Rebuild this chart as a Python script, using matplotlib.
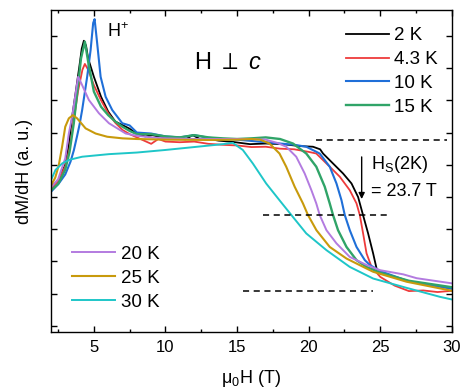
import matplotlib
matplotlib.use("Agg")
import matplotlib.pyplot as plt

plt.rcParams['font.family'] = ['Liberation Sans', 'DejaVu Sans']
plt.rcParams['mathtext.fontset'] = 'custom'
plt.rcParams['mathtext.rm'] = 'Liberation Sans'
plt.rcParams['mathtext.it'] = 'Liberation Sans:italic'
plt.rcParams['mathtext.bf'] = 'Liberation Sans:bold'

# ---------------- data ----------------
labels = ["2 K", "4.3 K", "10 K", "15 K", "20 K", "25 K", "30 K"]
colors = ["#000000", "#EE3B3B", "#1F6FD8", "#30A468", "#B37BE0", "#C89A0C", "#1EC6C8"]
widths = [1.3, 1.3, 1.5, 1.7, 1.4, 1.5, 1.4]

x_2K = [2.0, 2.5, 3.0, 3.25, 3.48, 3.72, 4.0, 4.15, 4.30, 4.45, 4.6, 5.0, 5.5, 6.0, 6.5, 7.0,
        7.45, 8.15, 8.6, 9.1, 9.6, 10.0, 10.7, 11.4, 11.9, 12.4, 12.8, 13.7, 14.7, 15.9, 17.0,
        18.2, 19.4, 20.3, 20.8, 21.0, 21.7, 22.4, 22.99, 23.45, 23.8, 24.15, 24.5, 24.74]
y_2K = [4.32, 4.5, 5.0, 5.6, 6.49, 7.22, 8.1, 8.6, 8.85, 8.7, 8.3, 7.73, 7.11, 6.65, 6.34, 6.23,
        6.13, 5.92, 5.88, 5.92, 5.86, 5.87, 5.82, 5.79, 5.92, 5.80, 5.82, 5.75, 5.71, 5.64, 5.66,
        5.64, 5.58, 5.56, 5.48, 5.35, 5.04, 4.73, 4.42, 4.0, 3.43, 2.87, 2.25, 1.78]

x_4K = [2.0, 2.5, 3.0, 3.3, 3.6, 3.9, 4.2, 4.37, 4.6, 5.0, 5.5, 6.0, 6.5, 7.0, 7.5, 8.0, 8.5,
        9.0, 9.5, 10.0, 11.0, 12.0, 13.0, 14.0, 15.0, 16.0, 17.0, 18.0, 19.0, 20.0, 20.53, 21.47,
        22.17, 22.87, 23.34, 23.57, 23.8, 24.04, 24.39, 25.0, 26.0, 27.0, 28.0, 29.0, 30.0]
y_4K = [4.25, 4.5, 4.95, 5.5, 6.4, 7.3, 7.95, 8.13, 7.95, 7.47, 7.0, 6.6, 6.3, 6.08, 5.95, 5.85,
        5.75, 5.65, 5.8, 5.72, 5.7, 5.72, 5.65, 5.62, 5.6, 5.55, 5.56, 5.5, 5.48, 5.4, 5.35, 4.94,
        4.63, 4.21, 3.80, 3.44, 2.87, 2.25, 1.83, 1.52, 1.25, 1.08, 1.1, 1.05, 1.09]

x_10K = [2.0, 2.55, 3.0, 3.37, 3.6, 3.83, 4.0, 4.18, 4.53, 4.77, 4.95, 5.05, 5.23, 5.47, 5.82,
         6.28, 6.98, 7.5, 8.0, 9.0, 10.0, 11.0, 12.0, 13.0, 14.0, 15.0, 16.0, 17.0, 18.0, 19.0,
         19.83, 20.77, 21.47, 21.94, 22.29, 22.52, 22.87, 23.34, 23.92, 24.27, 25.0, 27.0, 30.0]
y_10K = [4.16, 4.42, 4.7, 5.1, 5.45, 5.9, 6.25, 6.7, 7.73, 8.56, 9.4, 9.52, 8.77, 7.73, 7.11,
         6.70, 6.29, 6.22, 6.0, 5.97, 5.88, 5.85, 5.92, 5.84, 5.80, 5.78, 5.74, 5.70, 5.66, 5.62,
         5.56, 5.35, 4.94, 4.42, 3.90, 3.44, 2.97, 2.45, 2.04, 1.89, 1.7, 1.38, 1.15]

x_15K = [2.0, 2.5, 3.0, 3.3, 3.6, 3.9, 4.1, 4.37, 4.6, 5.0, 5.5, 6.0, 6.5, 7.0, 7.5, 8.0, 9.0,
         10.0, 11.0, 12.0, 13.0, 14.0, 15.0, 16.0, 17.0, 18.0, 18.9, 19.83, 20.53, 21.12, 21.47,
         21.7, 22.05, 22.64, 23.34, 24.04, 25.0, 27.0, 30.0]
y_15K = [4.2, 4.4, 4.85, 5.4, 6.3, 7.5, 8.3, 8.82, 8.2, 7.27, 6.80, 6.54, 6.34, 6.18, 6.05, 5.95,
         5.95, 5.88, 5.85, 5.92, 5.85, 5.82, 5.80, 5.82, 5.85, 5.8, 5.66, 5.35, 4.94, 4.32, 3.80,
         3.44, 2.97, 2.45, 2.04, 1.83, 1.65, 1.40, 1.2]

x_20K = [2.0, 2.5, 3.0, 3.25, 3.48, 3.72, 3.90, 4.1, 4.65, 5.35, 6.05, 7.22, 8.0, 9.0, 10.0,
         12.0, 14.0, 15.0, 16.0, 17.0, 17.8, 18.43, 19.13, 19.72, 20.19, 20.53, 20.77, 21.24,
         21.94, 22.87, 24.04, 24.97, 26.6, 27.54, 30.0]
y_20K = [4.3, 4.55, 5.2, 5.97, 6.49, 7.2, 7.73, 7.55, 7.01, 6.60, 6.29, 5.97, 5.9, 5.85, 5.82,
         5.80, 5.80, 5.80, 5.80, 5.78, 5.68, 5.56, 5.25, 4.73, 4.21, 3.80, 3.44, 2.97,
         2.56, 2.14, 1.89, 1.73, 1.60, 1.48, 1.32]

x_25K = [2.0, 2.3, 2.55, 2.78, 3.0, 3.25, 3.53, 3.83, 4.42, 5.12, 5.93, 7.0, 8.0, 10.0, 13.0,
         15.0, 16.0, 16.6, 17.26, 17.96, 18.43, 19.02, 19.6, 19.95, 20.54, 21.47, 22.64, 24.04,
         24.5, 26.84, 30.0]
y_25K = [4.35, 4.6, 4.99, 5.56, 6.18, 6.44, 6.54, 6.44, 6.13, 5.97, 5.87, 5.82, 5.80, 5.78, 5.77,
         5.78, 5.80, 5.78, 5.66, 5.35, 4.94, 4.32, 3.80, 3.44, 2.97, 2.45, 2.09, 1.78,
         1.68, 1.37, 1.09]

x_30K = [2.0, 2.32, 2.78, 3.25, 4.18, 6.05, 8.0, 10.0, 12.0, 14.0, 14.7, 15.4, 16.1, 17.03,
         17.96, 18.9, 19.83, 21.24, 22.87, 24.5, 26.84, 29.18, 30.0]
y_30K = [4.52, 4.84, 5.04, 5.15, 5.25, 5.33, 5.38, 5.46, 5.55, 5.64, 5.68, 5.46, 5.04, 4.42,
         3.90, 3.38, 2.87, 2.35, 1.83, 1.47, 1.18, 0.90, 0.82]

xs = [x_2K, x_4K, x_10K, x_15K, x_20K, x_25K, x_30K]
ys = [y_2K, y_4K, y_10K, y_15K, y_20K, y_25K, y_30K]

dash_y = [5.77, 3.43, 1.09]
dash_x0 = [20.5, 16.8, 15.4]
dash_x1 = [29.65, 25.7, 24.5]

hs_field = 23.7
arrow_y0, arrow_y1 = 5.33, 3.85

# ---------------- figure ----------------
fig = plt.figure(figsize=(4.63, 3.89), dpi=100)
ax = fig.add_axes([0.110, 0.1465, 0.866, 0.8275])

lines = []
for x, y, c, lab, w in zip(xs, ys, colors, labels, widths):
    ln, = ax.plot(x, y, color=c, lw=w, label=lab)
    lines.append(ln)

ax.hlines(dash_y, dash_x0, dash_x1, colors='black', linestyles=(0, (4, 3)), lw=1.1)

ax.annotate("", xy=(hs_field, arrow_y1), xytext=(hs_field, arrow_y0),
            arrowprops=dict(arrowstyle='-|>', color='black', lw=1.0, mutation_scale=9))
ax.text(24.32, 5.02, r"H$_\mathrm{S}$(2K)", fontsize=13, va='center', ha='left')
ax.text(24.32, 4.16, "= 23.7 T", fontsize=13, va='center', ha='left')
ax.text(5.93, 9.13, r"H$^{+}$", fontsize=13, va='center', ha='left')
ax.text(12.0, 8.17, r"H $\perp$ $c$", fontsize=17, va='center', ha='left')

ax.set_xlim(2, 30)
ax.set_ylim(-0.19, 9.8)
ax.set_xticks([5, 10, 15, 20, 25, 30])
ax.set_xticks([2.5, 7.5, 12.5, 17.5, 22.5, 27.5], minor=True)
ax.set_yticks(range(0, 10))
ax.set_yticklabels([])
ax.tick_params(which='both', direction='in', top=True, right=True, labelsize=12, width=1, pad=6)
ax.tick_params(which='major', length=4.5)
ax.tick_params(which='minor', length=2.5)
for s in ax.spines.values():
    s.set_linewidth(1.0)

ax.set_xlabel(r"μ$_0$H (T)", fontsize=13, labelpad=9)
ax.set_ylabel("dM/dH (a. u.)", fontsize=13, labelpad=7)

leg1 = ax.legend(handles=lines[:4], loc='upper left', bbox_to_anchor=(0.735, 0.947),
                 frameon=False, fontsize=13.5, handlelength=2.3, handletextpad=0.3,
                 labelspacing=0.36, borderpad=0, borderaxespad=0)
ax.add_artist(leg1)
ax.legend(handles=lines[4:], loc='upper left', bbox_to_anchor=(0.053, 0.268),
          frameon=False, fontsize=13.5, handlelength=2.3, handletextpad=0.3,
          labelspacing=0.36, borderpad=0, borderaxespad=0)

fig.savefig("out.png", dpi=100)
